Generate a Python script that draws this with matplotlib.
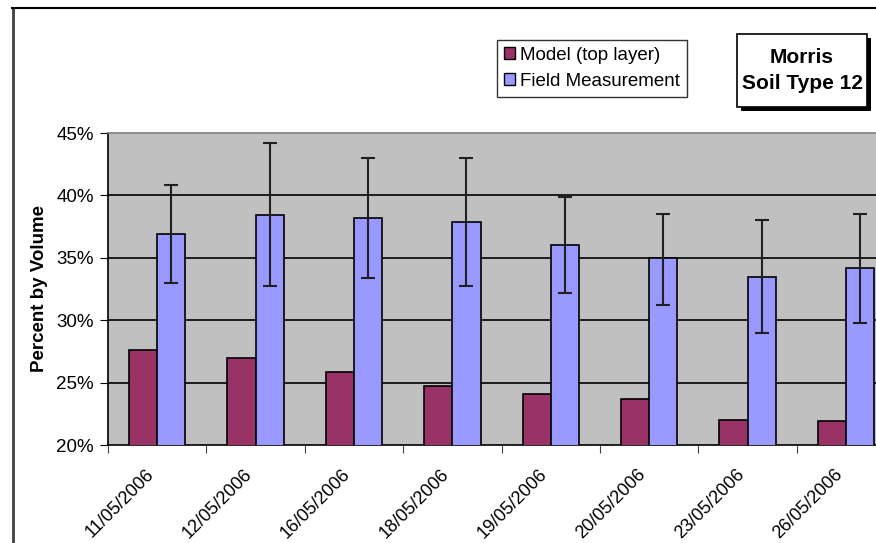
import matplotlib.pyplot as plt
import matplotlib.transforms as mtransforms
import numpy as np
from matplotlib.patches import Rectangle, Patch
from matplotlib.lines import Line2D

plt.rcParams['font.family'] = ['Liberation Sans', 'DejaVu Sans']

# data (percent by volume)
dates = ["11/05/2006", "12/05/2006", "16/05/2006", "18/05/2006",
         "19/05/2006", "20/05/2006", "23/05/2006", "26/05/2006"]
model = [27.6, 27.0, 25.85, 24.7, 24.1, 23.65, 22.0, 21.9]
field = [36.9, 38.4, 38.15, 37.9, 36.05, 34.95, 33.5, 34.15]
err_hi = [40.85, 44.2, 43.0, 43.0, 39.9, 38.5, 38.05, 38.5]
err_lo = [32.95, 32.75, 33.4, 32.75, 32.2, 31.2, 29.0, 29.8]
y_ticks = [20, 25, 30, 35, 40, 45]

W, H = 876, 543
fig = plt.figure(figsize=(W / 100, H / 100), dpi=100)
ax = fig.add_axes([108 / W, 1 - 445 / H, 1 - 108 / W, (445 - 133) / H])
ax.set_facecolor('#C0C0C0')

x = np.arange(len(dates))
bw = 0.286
fs = 13.5

ax.bar(x - bw / 2, model, bw, color='#993366', edgecolor='black',
       linewidth=1.2, zorder=3)
ax.bar(x + bw / 2, field, bw, color='#9999FF', edgecolor='black',
       linewidth=1.2, zorder=3)
yerr = [np.array(field) - np.array(err_lo), np.array(err_hi) - np.array(field)]
ax.errorbar(x + bw / 2, field, yerr=yerr, fmt='none', ecolor='#202020',
            elinewidth=1.5, capsize=5, capthick=1.5, zorder=4)

ax.set_ylim(20, 45)
ax.set_xlim(-0.5, 7.305)
ax.set_yticks(y_ticks)
ax.set_yticklabels([f"{v}%" for v in y_ticks], fontsize=fs)
for v in y_ticks[1:-1]:
    ax.axhline(v, color='black', linewidth=1.2, zorder=1)

# tick marks between categories, labels at centres
ax.set_xticks(np.arange(-0.5, 7.5, 1.0))
ax.set_xticklabels([])
ax.set_xticks(x, minor=True)
ax.set_xticklabels(dates, minor=True, rotation=45, ha='right',
                   rotation_mode='anchor', fontsize=13)
ax.tick_params(axis='x', which='minor', length=0, pad=12)
ax.tick_params(axis='x', which='major', length=6, color='#404040')
ax.tick_params(axis='y', length=6, pad=4)
shift = mtransforms.ScaledTranslation(-12 / 100, -4 / 100, fig.dpi_scale_trans)
for lbl in ax.get_xticklabels(minor=True):
    lbl.set_transform(lbl.get_transform() + shift)

ax.spines['left'].set_color('black')
ax.spines['bottom'].set_color('black')
ax.spines['top'].set_color('#808080')
ax.spines['right'].set_visible(False)
for s in ax.spines.values():
    s.set_linewidth(1.2)

ax.set_ylabel("Percent by Volume", fontsize=fs, fontweight='bold', labelpad=6)

handles = [Patch(facecolor='#993366', edgecolor='black', linewidth=1.0),
           Patch(facecolor='#9999FF', edgecolor='black', linewidth=1.0)]
leg = ax.legend(handles, ["Model (top layer)", "Field Measurement"],
                loc='upper left', bbox_to_anchor=(497 / W, 1 - 40 / H),
                bbox_transform=fig.transFigure, borderaxespad=0,
                fontsize=fs, frameon=True, fancybox=False,
                handlelength=0.6, handleheight=0.6, handletextpad=0.3,
                borderpad=0.35, labelspacing=0.5)
leg.get_frame().set_edgecolor('black')
leg.get_frame().set_linewidth(1.0)

# title box with drop shadow
fig.add_artist(Rectangle((741 / W, 1 - 111 / H), 130 / W, 73 / H,
                         transform=fig.transFigure, facecolor='black',
                         edgecolor='none'))
fig.add_artist(Rectangle((737 / W, 1 - 107 / H), 130 / W, 73 / H,
                         transform=fig.transFigure, facecolor='white',
                         edgecolor='black', linewidth=1.2))
fig.text(802 / W, 1 - 70.5 / H, "Morris\nSoil Type 12", ha='center',
         va='center', fontsize=15, fontweight='bold', linespacing=1.45)

# outer chart border (cropped)
fig.add_artist(Line2D([12.5 / W, 12.5 / W], [0, 1 - 8 / H],
                      transform=fig.transFigure, color='#404040', linewidth=2))
fig.add_artist(Line2D([12 / W, 1], [1 - 8 / H, 1 - 8 / H],
                      transform=fig.transFigure, color='black', linewidth=1.5))

fig.savefig("out.png", dpi=100)
